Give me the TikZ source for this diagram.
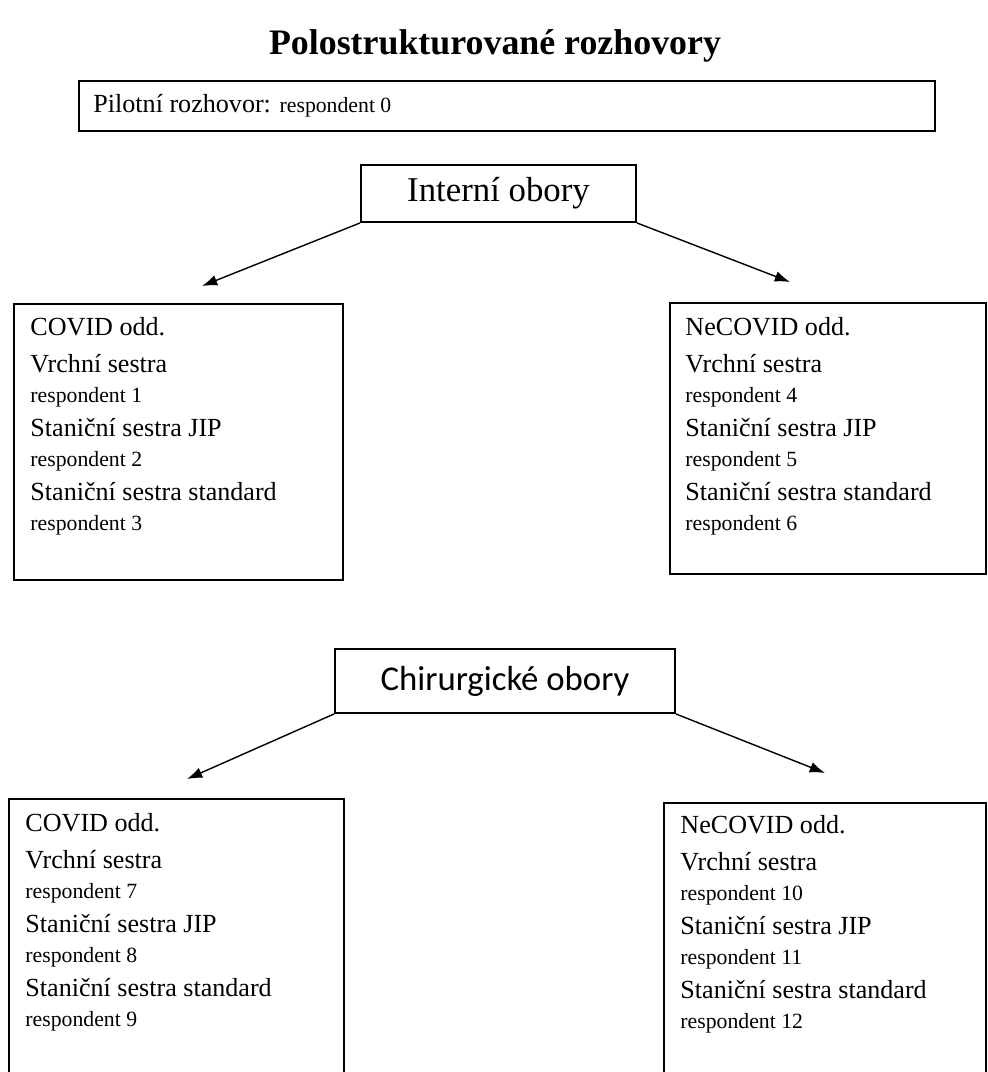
\documentclass[tikz,border=0pt]{standalone}
\usepackage{fontspec}
\setmainfont{Liberation Serif}
\newfontfamily\carlitofont{Carlito}
\usetikzlibrary{arrows.meta}

\newcommand{\px}{0.46pt}
\newcommand{\resp}[1]{{\fontsize{10}{12}\selectfont respondent #1}}

\tikzset{
  nadpis/.style={inner sep=0pt,font=\bfseries\fontsize{16.5}{20}\selectfont},
  ramec/.style={draw,line width=0.9pt,inner sep=0pt,anchor=north west},
  obor/.style={draw,line width=0.9pt,inner sep=0pt,font=\fontsize{16}{19}\selectfont},
  obsah/.style={anchor=north west,inner sep=0pt,align=left,font=\fontsize{12}{13.8}\selectfont},
  sipka/.style={-{Latex[length=7pt,width=5pt]},line width=0.65pt}
}

\begin{document}
\begin{tikzpicture}[x=\px,y=-\px]
\useasboundingbox (0,0) rectangle (987,1072);
\clip (0,0) rectangle (987,1072);
%nadpis
\node[nadpis] (titul) at (495,46) {Polostrukturované rozhovory};
%pilotni rozhovor
\node[ramec,minimum width=856*\px,minimum height=50*\px] (pilot) at (78,80) {};
\node[anchor=west,inner sep=0pt,font=\fontsize{12}{14}\selectfont] (pilotni) at (93,106) {Pilotní rozhovor: \resp{0}};

%interni obory
\node[obor,minimum width=275*\px,minimum height=57*\px] (interni) at (498.5,193.5) {Interní obory};
\coordinate (covidIhrot) at (202,286);
\coordinate (necovidIhrot) at (790,282);
\draw[sipka] (interni.south west) -- (covidIhrot);
\draw[sipka] (interni.south east) -- (necovidIhrot);

\node[ramec,minimum width=329*\px,minimum height=276*\px] (covidI) at (13,303) {};
\node[obsah] (covidItext) at (30,317) {COVID odd.\\[3pt] Vrchní sestra\\ \resp{1}\\[2pt] Staniční sestra JIP\\ \resp{2}\\[2pt] Staniční sestra standard\\ \resp{3}};

\node[ramec,minimum width=316*\px,minimum height=271*\px] (necovidI) at (669,302) {};
\node[obsah] (necovidItext) at (685,317) {NeCOVID odd.\\[3pt] Vrchní sestra\\ \resp{4}\\[2pt] Staniční sestra JIP\\ \resp{5}\\[2pt] Staniční sestra standard\\ \resp{6}};

%chirurgicke obory
\node[obor,font=\carlitofont\fontsize{16}{19}\selectfont,minimum width=340*\px,minimum height=64*\px] (chirurgie) at (505,681) {Chirurgické obory};
\coordinate (covidIIhrot) at (187,779);
\coordinate (necovidIIhrot) at (825,773);
\draw[sipka] (chirurgie.south west) -- (covidIIhrot);
\draw[sipka] (chirurgie.south east) -- (necovidIIhrot);

\node[ramec,minimum width=335*\px,minimum height=300*\px] (covidII) at (8,798) {};
\node[obsah] (covidIItext) at (25,813) {COVID odd.\\[3pt] Vrchní sestra\\ \resp{7}\\[2pt] Staniční sestra JIP\\ \resp{8}\\[2pt] Staniční sestra standard\\ \resp{9}};

\node[ramec,minimum width=322*\px,minimum height=300*\px] (necovidII) at (663,802) {};
\node[obsah] (necovidIItext) at (680,815) {NeCOVID odd.\\[3pt] Vrchní sestra\\ \resp{10}\\[2pt] Staniční sestra JIP\\ \resp{11}\\[2pt] Staniční sestra standard\\ \resp{12}};
\end{tikzpicture}
\end{document}
